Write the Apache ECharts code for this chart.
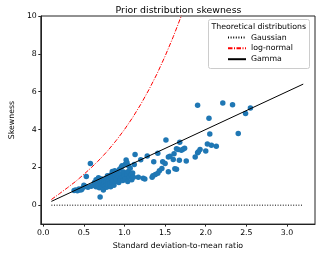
<!DOCTYPE html>
<html>
<head>
<meta charset="utf-8">
<script src="https://cdn.jsdelivr.net/npm/echarts@6/dist/echarts.min.js"></script>
<style>
html,body{margin:0;padding:0;background:#fff;}
#chart{width:320px;height:255px;}
</style>
</head>
<body>
<div id="chart"></div>
<script>
var titleText = 'Prior distribution skewness';
var xName = 'Standard deviation-to-mean ratio';
var yName = 'Skewness';
var legendTitle = 'Theoretical distributions';
var seriesNames = ['Gaussian', 'log-normal', 'Gamma'];
var xTicks = [0, 0.5, 1.0, 1.5, 2.0, 2.5, 3.0];
var yTicks = [0, 2, 4, 6, 8, 10];

var gaussX = [0.1, 3.2];
var gaussY = [0, 0];
var lognX = [0.1, 0.2, 0.3, 0.4, 0.5, 0.6, 0.7, 0.8, 0.9, 1.0, 1.1, 1.2, 1.3, 1.4, 1.5, 1.6, 1.7, 1.8];
var lognY = [0.30, 0.61, 0.93, 1.26, 1.63, 2.02, 2.44, 2.91, 3.43, 4.0, 4.63, 5.33, 6.10, 6.94, 7.88, 8.90, 10.01, 11.23];
var gammaX = [0.1, 3.2];
var gammaY = [0.2, 6.4];

var obsRatio = [0.38,0.40,0.42,0.44,0.45,0.47,0.48,0.50,0.52,0.53,0.55,0.58,0.59,
0.62,0.63,0.64,0.65,0.65,0.66,0.67,0.68,0.68,0.69,0.70,0.70,0.71,0.72,0.72,0.73,0.74,0.74,0.75,0.75,0.76,0.77,0.77,0.78,0.78,0.79,0.80,0.80,
0.81,0.82,0.83,0.83,0.84,0.85,0.85,0.86,0.87,0.88,0.88,0.89,0.90,0.90,0.91,0.92,0.93,0.94,0.95,0.95,0.96,0.97,0.97,0.98,0.99,1.00,1.01,1.01,1.02,1.03,1.03,1.04,1.05,1.05,1.06,1.07,1.08,1.09,1.10,1.11,1.13,1.12,
1.17,1.20,1.23,1.25,1.28,1.34,1.35,1.36,1.38,1.41,1.41,
1.43,1.46,1.47,1.50,1.51,1.54,1.54,1.56,1.60,1.61,1.62,1.64,1.64,
1.66,1.68,1.675,1.70,1.72,1.74,1.76,1.87,1.90,1.91,1.93,1.90,2.00,2.02,2.04,2.05,2.07,2.13,2.21,2.33,2.40,2.49,2.55];
var obsSkew = [0.78,0.80,0.76,0.86,0.80,0.82,0.88,1.05,0.99,1.52,0.95,2.20,1.00,
1.05,1.20,1.10,1.35,0.98,1.28,1.15,1.45,1.05,0.92,0.43,1.22,1.10,1.38,0.98,1.25,1.08,0.80,1.30,1.15,1.02,1.40,1.20,0.95,1.10,1.55,1.25,1.05,
1.35,1.15,1.60,0.98,1.45,1.78,1.20,1.30,1.05,1.82,1.50,1.62,1.25,1.40,1.70,1.55,1.20,1.90,1.35,1.65,2.00,1.45,2.08,1.30,1.75,1.55,2.16,1.40,2.39,2.25,1.65,1.25,2.08,1.80,1.50,1.95,1.62,1.35,1.70,1.47,2.68,2.15,
1.47,2.40,1.43,1.38,2.60,1.47,1.56,2.29,1.62,1.69,2.75,
1.82,1.94,2.29,2.20,3.44,2.55,1.77,2.58,2.42,2.72,1.92,2.98,1.90,
2.94,3.32,2.37,2.91,2.95,3.01,2.34,2.55,2.77,2.82,2.94,5.28,2.86,3.24,4.59,3.76,3.17,3.12,5.40,5.31,3.79,4.85,5.14];

function zip(a, b) { return a.map(function (v, i) { return [v, b[i]]; }); }

var font = 'DejaVu Sans';
var fs = 7.8;
var chart = echarts.init(document.getElementById('chart'), null, {renderer: 'canvas'});
chart.setOption({
  animation: false,
  backgroundColor: '#fff',
  textStyle: {fontFamily: font},
  title: {
    text: titleText, left: 173.5, textAlign: 'center', top: 1.5,
    textStyle: {fontFamily: font, fontSize: 9.4, fontWeight: 'normal', color: '#000'}
  },
  grid: {left: 31, right: 5, top: 16, bottom: 27.5, show: true, borderColor: '#222', borderWidth: 1, backgroundColor: 'transparent'},
  xAxis: {
    type: 'value', min: -0.03, max: 3.345,
    name: xName, nameLocation: 'middle', nameGap: 16,
    nameTextStyle: {fontFamily: font, fontSize: fs, color: '#000'},
    axisLine: {show: true, onZero: false, lineStyle: {color: '#222', width: 1}},
    axisTick: {show: true, length: 2.5, customValues: xTicks, lineStyle: {color: '#222'}},
    axisLabel: {customValues: xTicks, margin: 5, fontFamily: font, fontSize: fs, color: '#000',
      formatter: function (v) { return v.toFixed(1); }},
    splitLine: {show: false}
  },
  yAxis: {
    type: 'value', min: -1, max: 10,
    name: yName, nameLocation: 'middle', nameGap: 21, nameRotate: 90,
    nameTextStyle: {fontFamily: font, fontSize: fs, color: '#000'},
    axisLine: {show: true, onZero: false, lineStyle: {color: '#222', width: 1}},
    axisTick: {show: true, length: 2.5, customValues: yTicks, lineStyle: {color: '#222'}},
    axisLabel: {customValues: yTicks, margin: 4, fontFamily: font, fontSize: fs, color: '#000'},
    splitLine: {show: false}
  },
  legend: {
    data: seriesNames, orient: 'vertical', left: 227, top: 33.5, z: 20,
    itemWidth: 18, itemHeight: 9, itemGap: 2.85, padding: 0,
    itemStyle: {opacity: 0},
    textStyle: {fontFamily: font, fontSize: fs, color: '#000'}
  },
  graphic: [
    {type: 'rect', shape: {x: 208.5, y: 19.5, width: 101, height: 49, r: 2},
     style: {fill: 'rgba(255,255,255,0.8)', stroke: '#ccc', lineWidth: 1}, z: 1},
    {type: 'text', left: 211.5, top: 22.5, z: 2,
     style: {text: legendTitle, fontFamily: font, fontSize: fs, fill: '#000'}}
  ],
  series: [
    {type: 'scatter', name: 'obs', data: zip(obsRatio, obsSkew), symbolSize: 5.5,
     itemStyle: {color: '#1f77b4', opacity: 1}, z: 2},
    {type: 'line', name: seriesNames[0], data: zip(gaussX, gaussY), symbol: 'none',
     itemStyle: {color: '#000'},
     lineStyle: {color: '#000', width: 1, type: [1, 1.6]}, z: 3},
    {type: 'line', name: seriesNames[1], data: zip(lognX, lognY), symbol: 'none', smooth: false,
     itemStyle: {color: '#ff0000'},
     lineStyle: {color: '#ff0000', width: 1, type: [4.5, 1.5, 1, 1.5]}, z: 3},
    {type: 'line', name: seriesNames[2], data: zip(gammaX, gammaY), symbol: 'none',
     itemStyle: {color: '#000'},
     lineStyle: {color: '#000', width: 1}, z: 3}
  ]
});
</script>
</body>
</html>
